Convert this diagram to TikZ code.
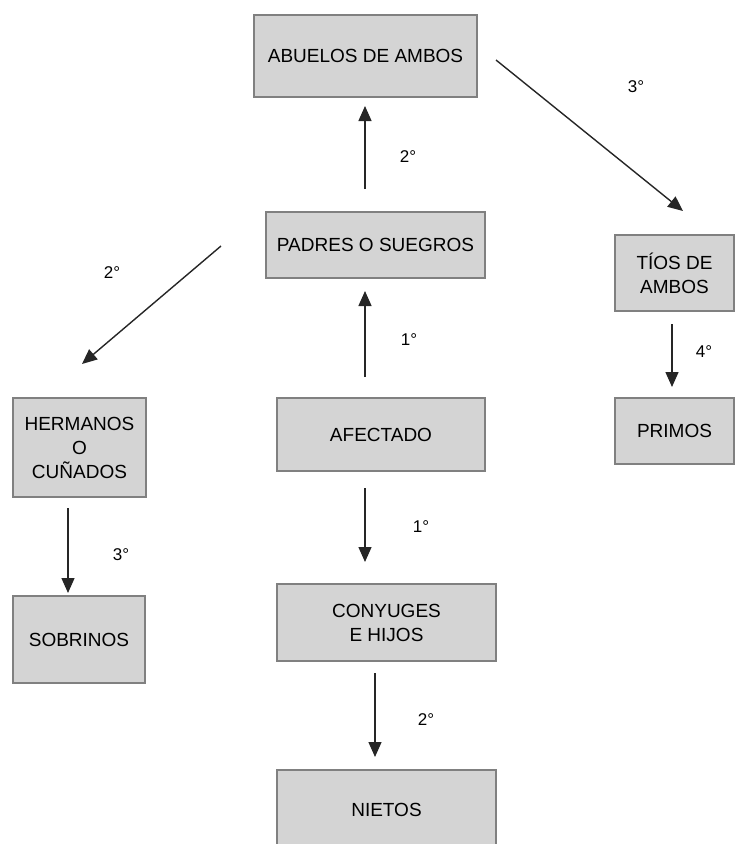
\documentclass[tikz,border=0pt]{standalone}
\usepackage{fontspec}
\setmainfont{Liberation Sans}
\usetikzlibrary{arrows.meta}
\definecolor{boxfill}{HTML}{D4D4D4}
\definecolor{boxline}{HTML}{808080}
\definecolor{arrline}{HTML}{262626}
\tikzset{
  famgrade/.style={draw=boxline, line width=2pt, fill=boxfill, align=center,
    inner sep=0pt, font=\fontsize{19pt}{24pt}\selectfont},
  arr/.style={draw=arrline, line width=1.4pt, -{Triangle[length=15pt,width=13pt]}},
  grado/.style={font=\fontsize{17pt}{20pt}\selectfont, inner sep=0pt}
}
\begin{document}
\begin{tikzpicture}[x=1pt,y=-1pt]
\useasboundingbox (0,0) rectangle (735,844);
\node[famgrade, minimum width=223pt, minimum height=82pt] (abuelos) at (365.5,56) {ABUELOS DE AMBOS};
\node[famgrade, minimum width=219pt, minimum height=66pt] (padres) at (375.5,245) {PADRES O SUEGROS};
\node[famgrade, minimum width=119pt, minimum height=76pt] (tios) at (674.5,273) {TÍOS DE\\AMBOS};
\node[famgrade, minimum width=133pt, minimum height=99pt] (hermanos) at (79.5,447.5) {HERMANOS\\O\\CUÑADOS};
\node[famgrade, minimum width=208pt, minimum height=73pt] (afectado) at (381,434.5) {AFECTADO};
\node[famgrade, minimum width=119pt, minimum height=66pt] (primos) at (674.5,431) {PRIMOS};
\node[famgrade, minimum width=132pt, minimum height=87pt] (sobrinos) at (79,639.5) {SOBRINOS};
\node[famgrade, minimum width=219pt, minimum height=77pt] (conyuges) at (386.5,622.5) {CONYUGES\\E HIJOS};
\node[famgrade, minimum width=219pt, minimum height=80pt, text depth=0pt] (nietos) at (386.5,810) {NIETOS};

\draw[arr] ([xshift=-10.5pt,yshift=22pt]padres.north) -- ([xshift=-0.5pt,yshift=-8pt]abuelos.south);
\draw[arr] ([xshift=18pt,yshift=-4pt]abuelos.east) -- ([xshift=8.5pt,yshift=23pt]tios.north);
\draw[arr] ([xshift=-44pt,yshift=-1pt]padres.west) -- ([xshift=2.5pt,yshift=33pt]hermanos.north);
\draw[arr] ([xshift=-16pt,yshift=20pt]afectado.north) -- ([xshift=-10.5pt,yshift=-12pt]padres.south);
\draw[arr] ([xshift=-2.5pt,yshift=-12pt]tios.south) -- ([xshift=-2.5pt,yshift=10pt]primos.north);
\draw[arr] ([xshift=-11.5pt,yshift=-10pt]hermanos.south) -- ([xshift=-11pt,yshift=2pt]sobrinos.north);
\draw[arr] ([xshift=-16pt,yshift=-16pt]afectado.south) -- ([xshift=-21.5pt,yshift=21pt]conyuges.north);
\draw[arr] ([xshift=-11.5pt,yshift=-11pt]conyuges.south) -- ([xshift=-11.5pt,yshift=12pt]nietos.north);

\node[grado] (g-abuelos) at (408,157) {2°};
\node[grado] (g-tios) at (636,87) {3°};
\node[grado] (g-hermanos) at (112,273) {2°};
\node[grado] (g-padres) at (409,340) {1°};
\node[grado] (g-primos) at (704,352) {4°};
\node[grado] (g-sobrinos) at (121,555) {3°};
\node[grado] (g-conyuges) at (421,527) {1°};
\node[grado] (g-nietos) at (426,720) {2°};
\end{tikzpicture}
\end{document}
